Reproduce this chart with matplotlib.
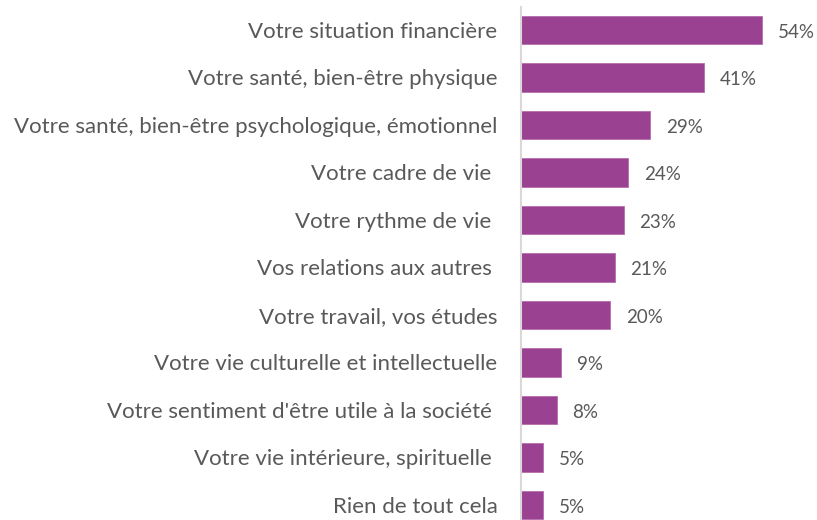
import matplotlib
matplotlib.use("Agg")
import matplotlib.pyplot as plt

categories = [
    "Votre situation financière",
    "Votre santé, bien-être physique",
    "Votre santé, bien-être psychologique, émotionnel",
    "Votre cadre de vie ",
    "Votre rythme de vie ",
    "Vos relations aux autres ",
    "Votre travail, vos études",
    "Votre vie culturelle et intellectuelle",
    "Votre sentiment d'être utile à la société ",
    "Votre vie intérieure, spirituelle ",
    "Rien de tout cela",
]
values = [54, 41, 29, 24, 23, 21, 20, 9, 8, 5, 5]
value_labels = ["54%", "41%", "29%", "24%", "23%", "21%", "20%", "9%", "8%", "5%", "5%"]

plt.rcParams["font.family"] = ["Lato", "DejaVu Sans"]

W, H = 817, 520
fig = plt.figure(figsize=(W / 100, H / 100), dpi=100)
left, top, bottom = 521, 7, 520
ax = fig.add_axes([left / W, 0, (W - left) / W, (bottom - top) / H])

n = len(categories)
ypos = [n - 1 - i for i in range(n)]
bar_color = "#9B4192"
ax.barh(ypos, values, height=0.59, color=bar_color, edgecolor="#B56DAE", linewidth=0.6)

ax.set_xlim(0, (W - left) / 4.46)
ax.set_ylim(-0.316, n - 1 + 0.484)

text_color = "#595959"
ax.set_yticks(ypos)
ax.set_yticklabels(categories, fontsize=16, color=text_color)
ax.tick_params(axis="y", length=0, pad=17)
ax.set_xticks([])

for y, v, lab in zip(ypos, values, value_labels):
    ax.text(v + 3.5, y - 0.05, lab, va="center", ha="left", fontsize=13.5, color=text_color)

for side in ["top", "right", "bottom"]:
    ax.spines[side].set_visible(False)
ax.spines["left"].set_color("#D9D9D9")
ax.spines["left"].set_linewidth(1.5)

fig.savefig("out.png", dpi=100)
